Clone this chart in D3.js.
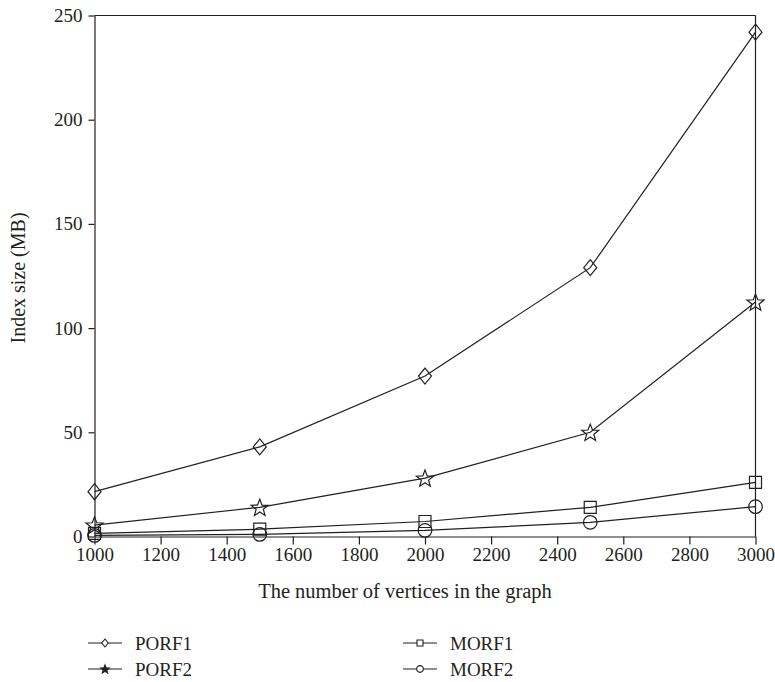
<!DOCTYPE html>
<html>
<head>
<meta charset="utf-8">
<script src="https://cdn.jsdelivr.net/npm/d3@7"></script>
<style>
  body { margin: 0; background: #fff; }
  text { font-family: "Liberation Serif", "DejaVu Serif", serif; fill: #231f20; }
</style>
</head>
<body>
<svg id="chart" width="775" height="682"></svg>
<script>
// Data
const vertices = [1000, 1500, 2000, 2500, 3000];
const porf1 = [21.5, 43, 77, 129, 242];
const porf2 = [5.5, 14, 28, 50, 112.5];
const morf1 = [1.5, 3.5, 7.2, 14, 26];
const morf2 = [0.5, 1, 2.9, 6.8, 14.3];
const xTicks = [1000, 1200, 1400, 1600, 1800, 2000, 2200, 2400, 2600, 2800, 3000];
const yTicks = [0, 50, 100, 150, 200, 250];

const series = [
  { name: "PORF1", values: porf1, marker: "diamond" },
  { name: "PORF2", values: porf2, marker: "star" },
  { name: "MORF1", values: morf1, marker: "square" },
  { name: "MORF2", values: morf2, marker: "circle" }
];

const ink = "#231f20";
const svg = d3.select("#chart");

const x = d3.scaleLinear().domain([1000, 3000]).range([94.5, 755.5]);
const y = d3.scaleLinear().domain([0, 250]).range([536.5, 15.5]);

// symbol paths, centred on 0,0
function markerPath(type, s) {
  if (type === "diamond") {
    return `M0,${-8 * s}L${6.5 * s},0L0,${8 * s}L${-6.5 * s},0Z`;
  }
  if (type === "square") {
    const h = 6 * s;
    return `M${-h},${-h}H${h}V${h}H${-h}Z`;
  }
  if (type === "circle") {
    const r = 6.8 * s;
    return `M${r},0A${r},${r},0,1,1,${-r},0A${r},${r},0,1,1,${r},0Z`;
  }
  // star
  const outer = 9 * s, inner = 3.8 * s;
  let p = "";
  for (let i = 0; i < 10; i++) {
    const r = i % 2 === 0 ? outer : inner;
    const a = -Math.PI / 2 + i * Math.PI / 5;
    p += (i === 0 ? "M" : "L") + (r * Math.cos(a)).toFixed(2) + "," + (r * Math.sin(a) + 0.8 * s).toFixed(2);
  }
  return p + "Z";
}

// x axis
const xAxis = svg.append("g")
  .attr("transform", `translate(0,${y(0)})`)
  .call(d3.axisBottom(x).tickValues(xTicks).tickFormat(d3.format("d"))
    .tickSize(8).tickSizeOuter(0).tickPadding(3));
xAxis.selectAll("text").style("font-size", "19px");

// y axis
const yAxis = svg.append("g")
  .attr("transform", `translate(${x(1000)},0)`)
  .call(d3.axisLeft(y).tickValues(yTicks).tickFormat(d3.format("d"))
    .tickSize(6).tickSizeOuter(0).tickPadding(6));
yAxis.selectAll("text").style("font-size", "19px");

svg.selectAll(".domain, .tick line").attr("stroke", ink).attr("stroke-width", 1.2);

// top and right frame lines
svg.append("line")
  .attr("x1", x(1000)).attr("x2", x(3000))
  .attr("y1", y(250)).attr("y2", y(250))
  .attr("stroke", ink).attr("stroke-width", 1.2);
svg.append("line")
  .attr("x1", x(3000)).attr("x2", x(3000))
  .attr("y1", y(250)).attr("y2", y(0))
  .attr("stroke", ink).attr("stroke-width", 1.2);

// lines
const line = d3.line()
  .x((d, i) => x(vertices[i]))
  .y(d => y(d));

series.forEach(s => {
  svg.append("path")
    .attr("d", line(s.values))
    .attr("fill", "none")
    .attr("stroke", ink)
    .attr("stroke-width", 1.2);

  svg.selectAll(null)
    .data(s.values)
    .enter()
    .append("path")
    .attr("d", markerPath(s.marker, 1))
    .attr("transform", (d, i) => `translate(${x(vertices[i])},${y(d)})`)
    .attr("fill", "none")
    .attr("stroke", ink)
    .attr("stroke-width", 1.2);
});

// axis titles
svg.append("text")
  .attr("x", 405)
  .attr("y", 598)
  .attr("text-anchor", "middle")
  .style("font-size", "20.5px")
  .text("The number of vertices in the graph");

svg.append("text")
  .attr("transform", "translate(25,278) rotate(-90)")
  .attr("text-anchor", "middle")
  .style("font-size", "20px")
  .text("Index size (MB)");

// legend
const legendPos = [
  { x: 88, y: 643 },
  { x: 88, y: 669 },
  { x: 403, y: 643 },
  { x: 403, y: 669 }
];

series.forEach((s, i) => {
  const p = legendPos[i];
  const g = svg.append("g").attr("transform", `translate(${p.x},${p.y})`);
  g.append("line")
    .attr("x1", 0).attr("x2", 34)
    .attr("y1", 0).attr("y2", 0)
    .attr("stroke", ink).attr("stroke-width", 1.2);
  g.append("path")
    .attr("d", markerPath(s.marker, 0.5))
    .attr("transform", "translate(17,0)")
    .attr("fill", s.marker === "star" ? ink : "#fff")
    .attr("stroke", ink)
    .attr("stroke-width", 1.1);
  g.append("text")
    .attr("x", 47)
    .attr("y", 6.5)
    .style("font-size", "19px")
    .text(s.name);
});
</script>
</body>
</html>
